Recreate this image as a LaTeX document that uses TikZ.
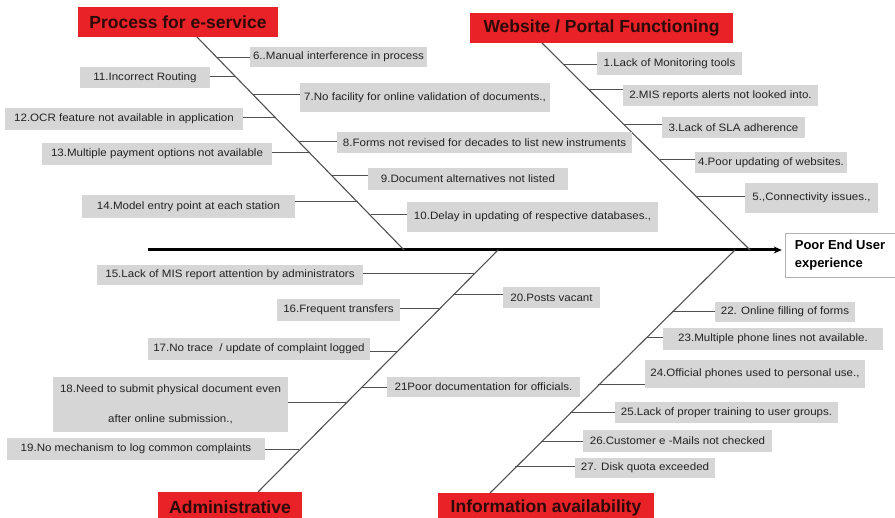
\documentclass[tikz,border=0pt]{standalone}
\usepackage{fontspec}
\setmainfont{Liberation Sans}
\newfontfamily\causefont[FakeStretch=1.08]{Liberation Sans}
\usetikzlibrary{arrows.meta}

\definecolor{catred}{RGB}{232,34,38}
\definecolor{boxgray}{RGB}{214,214,214}
\definecolor{bonegray}{RGB}{80,80,80}
\definecolor{txt}{RGB}{35,35,35}

\begin{document}
\begin{tikzpicture}[x=1pt, y=-1pt, >={Stealth[length=8pt,width=7pt]},
    cat/.style={fill=catred, text={rgb,255:red,45;green,10;blue,10}, inner sep=0pt,
      font=\fontsize{17.5}{20}\selectfont\bfseries},
    cause/.style 2 args={fill=boxgray, text=txt, inner sep=0pt, align=center,
      minimum width=#1pt, minimum height=#2pt, font=\causefont\fontsize{10.7}{12.5}\selectfont},
    bone/.style={draw=bonegray, line width=1.1pt},
    twig/.style={draw=bonegray, line width=1pt}]
    \useasboundingbox (0,0) rectangle (895,518);

    % spine and effect
    \node[draw=gray!60, fill=white, align=left, inner sep=0pt, minimum width=110pt, minimum height=44pt,
      font=\fontsize{13}{18}\selectfont\bfseries] (eff) at (840,255) {Poor End User\\experience};
    \coordinate (tail) at (148,250);
    \draw[->, line width=3pt, shorten >=3pt] (tail) -- (tail -| eff.west);

    % categories
    \node[cat, minimum width=200pt, minimum height=30pt] (pcat) at (178,22) {Process for e-service};
    \node[cat, minimum width=263pt, minimum height=30pt] (wcat) at (601.5,28) {Website / Portal Functioning};
    \node[cat, minimum width=144pt, minimum height=30pt] (acat) at (230,507) {Administrative};
    \node[cat, minimum width=216pt, minimum height=30pt] (icat) at (546,508) {Information availability};

    % bones
    \coordinate (p1) at (197,37);  \coordinate (p2) at (404,250);
    \coordinate (w1) at (542,43);  \coordinate (w2) at (750,250);
    \coordinate (a1) at (498,250); \coordinate (a2) at (258,492);
    \coordinate (i1) at (735,250); \coordinate (i2) at (490,493);
    \draw[bone] (p1) -- (p2);
    \draw[bone] (w1) -- (w2);
    \draw[bone] (a1) -- (a2);
    \draw[bone] (i1) -- (i2);

    % process for e-service
    \node[cause={177}{20}] (c6) at (338.5,57) {6..Manual interference in process};
    \node[cause={130}{21}] (c11) at (145,77.5) {11.Incorrect Routing};
    \node[cause={250}{29}] (c7) at (425,97.5) {7.No facility for online validation of documents.,};
    \node[cause={238}{22}] (c12) at (124,119) {12.OCR feature not available in application};
    \node[cause={295}{21}] (c8) at (484.5,142.5) {8.Forms not revised for decades to list new instruments};
    \node[cause={230}{22}] (c13) at (157,154) {13.Multiple payment options not available};
    \node[cause={200}{22}] (c9) at (468,179) {9.Document alternatives not listed};
    \node[cause={213}{23}] (c14) at (188.5,206.5) {14.Model entry point at each station};
    \node[cause={251}{30}] (c10) at (532.5,217) {10.Delay in updating of respective databases.,};
    \coordinate (b6) at (217,58);   \draw[twig] (b6) -- (b6 -| c6.west);
    \coordinate (b11) at (236,77);  \draw[twig] (b11) -- (b11 -| c11.east);
    \coordinate (b7) at (253,95);   \draw[twig] (b7) -- (b7 -| c7.west);
    \coordinate (b12) at (275,118); \draw[twig] (b12) -- (b12 -| c12.east);
    \coordinate (b8) at (299,142);  \draw[twig] (b8) -- (b8 -| c8.west);
    \coordinate (b13) at (310,153); \draw[twig] (b13) -- (b13 -| c13.east);
    \coordinate (b9) at (332,176);  \draw[twig] (b9) -- (b9 -| c9.west);
    \coordinate (b14) at (358,202); \draw[twig] (b14) -- (b14 -| c14.east);
    \coordinate (b10) at (371,215); \draw[twig] (b10) -- (b10 -| c10.west);

    % website / portal functioning
    \node[cause={145}{23}] (c1) at (669.5,63.5) {1.Lack of Monitoring tools};
    \node[cause={195}{21}] (c2) at (720.5,95.5) {2.MIS reports alerts not looked into.};
    \node[cause={143}{21}] (c3) at (733.5,127.5) {3.Lack of SLA adherence};
    \node[cause={152}{21}] (c4) at (771,162.5) {4.Poor updating of websites.};
    \node[cause={133}{30}] (c5) at (811.5,198) {5.,Connectivity issues.,};
    \coordinate (b1) at (564,65);  \draw[twig] (b1) -- (b1 -| c1.west);
    \coordinate (b2) at (589,90);  \draw[twig] (b2) -- (b2 -| c2.west);
    \coordinate (b3) at (624,125); \draw[twig] (b3) -- (b3 -| c3.west);
    \coordinate (b4) at (660,160); \draw[twig] (b4) -- (b4 -| c4.west);
    \coordinate (b5) at (697,197); \draw[twig] (b5) -- (b5 -| c5.west);

    % administrative
    \node[cause={266}{20}] (c15) at (230,275) {15.Lack of MIS report attention by administrators};
    \node[cause={123}{22}] (c16) at (338.5,310) {16.Frequent transfers};
    \node[cause={222}{22}] (c17) at (259,349) {17.No trace\ \ / update of complaint logged};
    \node[cause={235}{55}] (c18) at (170.5,404.5) {18.Need to submit physical document even\\[18pt]after online submission.,};
    \node[cause={258}{22}] (c19) at (136,449) {19.No mechanism to log common complaints};
    \node[cause={97}{21}] (c20) at (551.5,297.5) {20.Posts vacant};
    \node[cause={193}{20}] (c21) at (483.5,387) {21Poor documentation for officials.};
    \coordinate (b15) at (474,274); \draw[twig] (b15) -- (b15 -| c15.east);
    \coordinate (b16) at (439,309); \draw[twig] (b16) -- (b16 -| c16.east);
    \coordinate (b17) at (397,352); \draw[twig] (b17) -- (b17 -| c17.east);
    \coordinate (b18) at (346,403); \draw[twig] (b18) -- (b18 -| c18.east);
    \coordinate (b19) at (299,450); \draw[twig] (b19) -- (b19 -| c19.east);
    \coordinate (b20) at (453,295); \draw[twig] (b20) -- (b20 -| c20.west);
    \coordinate (b21) at (361,388); \draw[twig] (b21) -- (b21 -| c21.west);

    % information availability
    \node[cause={140}{20}] (c22) at (785,312) {22. Online filling of forms};
    \node[cause={220}{22}] (c23) at (773,339) {23.Multiple phone lines not available.};
    \node[cause={220}{28}] (c24) at (755,374) {24.Official phones used to personal use.,};
    \node[cause={223}{21}] (c25) at (726.5,412.5) {25.Lack of proper training to user groups.};
    \node[cause={189}{22}] (c26) at (677.5,441) {26.Customer e -Mails not checked};
    \node[cause={140}{20}] (c27) at (645,468) {27. Disk quota exceeded};
    \coordinate (b22) at (672,312); \draw[twig] (b22) -- (b22 -| c22.west);
    \coordinate (b23) at (646,338); \draw[twig] (b23) -- (b23 -| c23.west);
    \coordinate (b24) at (598,385); \draw[twig] (b24) -- (b24 -| c24.west);
    \coordinate (b25) at (570,413); \draw[twig] (b25) -- (b25 -| c25.west);
    \coordinate (b26) at (541,442); \draw[twig] (b26) -- (b26 -| c26.west);
    \coordinate (b27) at (515,467); \draw[twig] (b27) -- (b27 -| c27.west);
\end{tikzpicture}
\end{document}
